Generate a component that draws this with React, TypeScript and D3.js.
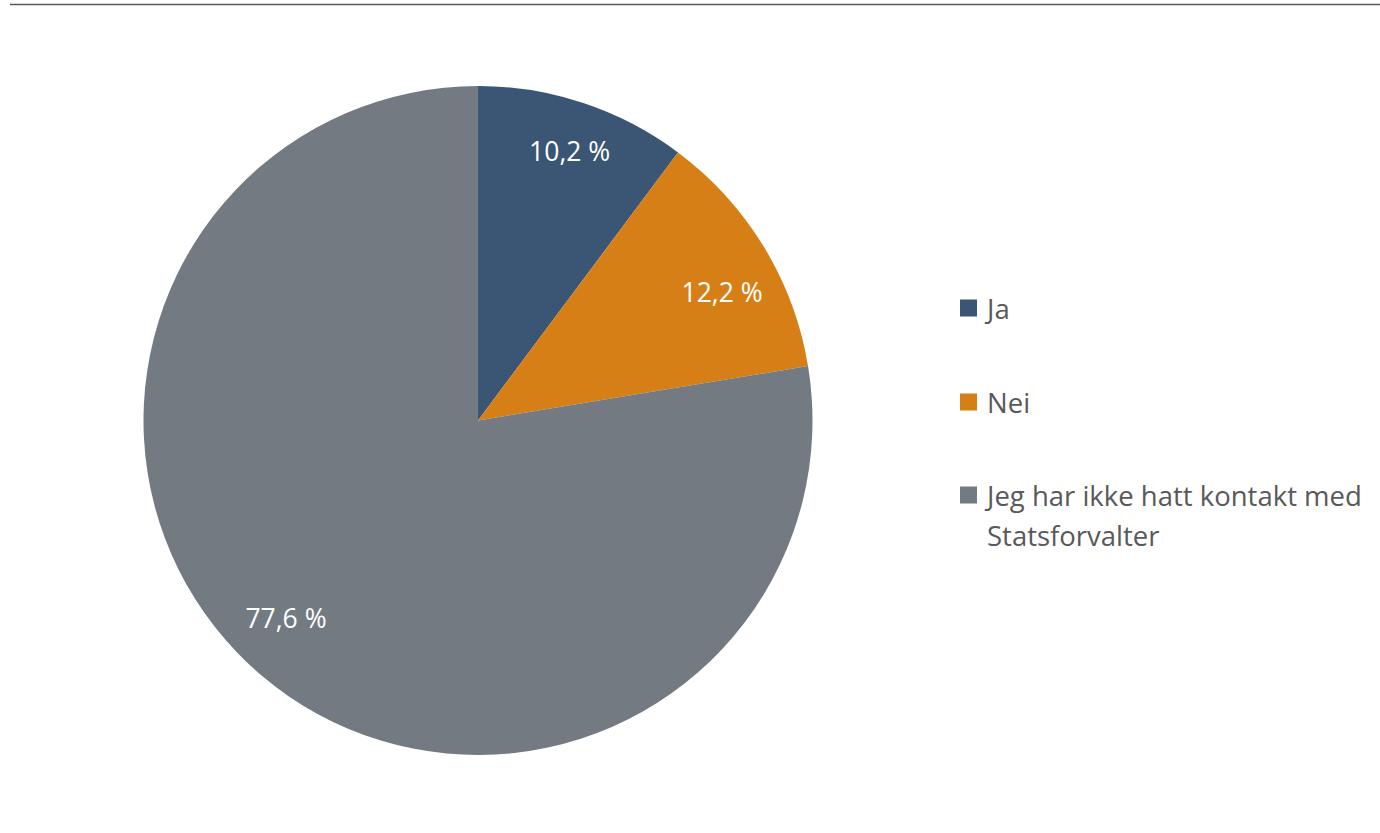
import React from "react";
import * as d3 from "d3";

const categories = ["Ja", "Nei", "Jeg har ikke hatt kontakt med Statsforvalter"];
const values = [10.2, 12.2, 77.6];
const valueLabels = ["10,2 %", "12,2 %", "77,6 %"];
const colors = ["#3A5674", "#D57F16", "#737A82"];
const legendLines = [["Ja"], ["Nei"], ["Jeg har ikke hatt kontakt med", "Statsforvalter"]];
// label placement (fraction of radius, angle shift in degrees) mimicking Excel "best fit"
const labelRadiusFrac = [0.852, 0.825, 0.823];
const labelAngleShift = [0.4, 3.5, 3.9];

const W = 1380;
const H = 833;
const FONT = "'Open Sans', Lato, sans-serif";

export default function App() {
  const cx = 478;
  const cy = 420.5;
  const R = 334.5;
  const pie = d3.pie<number>().sort(null).value((d) => d);
  const arcs = pie(values);
  const arc = d3.arc<d3.PieArcDatum<number>>().innerRadius(0).outerRadius(R);
  const legendY = [308, 402, 495];

  return (
    <svg width={W} height={H} style={{ position: "absolute", left: 0, top: 0, background: "#fff" }}>
      <line x1={10} x2={W} y1={4.5} y2={4.5} stroke="#595959" strokeWidth={1.3} />
      <g transform={`translate(${cx},${cy})`}>
        {arcs.map((a, i) => (
          <path key={i} d={arc(a) || ""} fill={colors[i]} />
        ))}
        {arcs.map((a, i) => {
          const ang = (a.startAngle + a.endAngle) / 2 + (labelAngleShift[i] * Math.PI) / 180;
          const r = R * labelRadiusFrac[i];
          const x = r * Math.sin(ang);
          const y = -r * Math.cos(ang);
          return (
            <text
              key={"l" + i}
              x={x}
              y={y}
              textAnchor="middle"
              dominantBaseline="central"
              fill="#fff"
              fontFamily={FONT}
              fontSize={26.5}
            >
              {valueLabels[i]}
            </text>
          );
        })}
      </g>
      <g>
        {categories.map((c, i) => (
          <g key={c}>
            <rect x={960} y={legendY[i] - 8.5} width={17} height={17} fill={colors[i]} />
            {legendLines[i].map((ln, j) => (
              <text
                key={j}
                x={987}
                y={legendY[i] + j * 40}
                dominantBaseline="central"
                fill="#595959"
                fontFamily={FONT}
                fontSize={27.5}
              >
                {ln}
              </text>
            ))}
          </g>
        ))}
      </g>
    </svg>
  );
}
